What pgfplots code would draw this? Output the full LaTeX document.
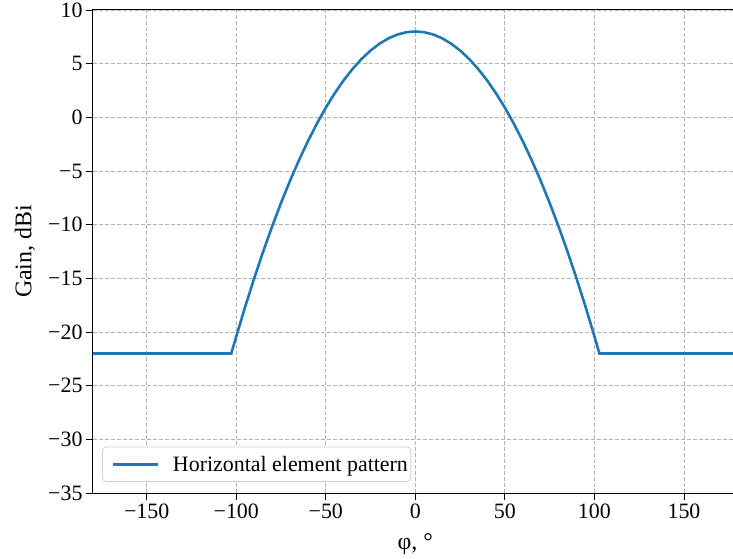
\documentclass[border=0pt]{standalone}
\usepackage{fontspec}
\setmainfont{Liberation Serif}
\usepackage{pgfplots}
\pgfplotsset{compat=1.18}
\definecolor{c0}{HTML}{1F77B4}
\begin{document}
\begin{tikzpicture}
\begin{axis}[name=ax, scale only axis, width=644.7bp, height=483bp,
 xmin=-180, xmax=180, ymin=-35, ymax=10,
 xtick={-150,-100,...,150}, xticklabels={−150,−100,−50,0,50,100,150},
 ytick={-35,-30,...,10}, yticklabels={−35,−30,−25,−20,−15,−10,−5,0,5,10},
 tick pos=left, tick align=outside, major tick length=7bp,
 tick style={black, line width=0.8bp},
 axis line style={line width=1bp},
 grid=major, grid style={dash pattern=on 4bp off 2bp, gray!60, line width=0.8bp},
 tick label style={font=\fontsize{22}{26}\selectfont},
 label style={font=\fontsize{24}{28}\selectfont},
 xlabel={φ, °}, ylabel={Gain, dBi},
 xlabel style={at={(axis description cs:0.5,-0.105)}, anchor=center},
 ylabel style={at={(axis description cs:-0.1055,0.5)}, anchor=center},
 legend style={at={(0,0)}, anchor=south west, xshift=9bp, yshift=11bp,
   draw=gray!35, rounded corners=4bp, font=\fontsize{22}{26}\selectfont,
   inner xsep=1bp, inner ysep=7bp, line width=0.8bp},
 legend cell align=left,
 legend image code/.code={\path (0bp,0bp) (65bp,0bp); \draw[#1] (8bp,0bp) -- (53bp,0bp);},
]
\addplot[c0, line width=2.6bp] coordinates {
(-180,-22) (-102.77,-22) (-100,-20.402) (-95,-17.633) (-90,-15.006) (-85,-12.521)
(-80,-10.178) (-75,-7.976) (-70,-5.917) (-65,-4) (-60,-2.225) (-55,-0.592)
(-50,0.899) (-45,2.249) (-40,3.456) (-35,4.521) (-30,5.444) (-25,6.225)
(-20,6.864) (-15,7.361) (-10,7.716) (-5,7.929) (0,8) (5,7.929) (10,7.716)
(15,7.361) (20,6.864) (25,6.225) (30,5.444) (35,4.521) (40,3.456) (45,2.249)
(50,0.899) (55,-0.592) (60,-2.225) (65,-4) (70,-5.917) (75,-7.976) (80,-10.178)
(85,-12.521) (90,-15.006) (95,-17.633) (100,-20.402) (102.77,-22) (180,-22)
};
\addlegendentry{Horizontal element pattern}
\end{axis}
\pgfresetboundingbox
\path[use as bounding box] ([shift={(-93bp,-66bp)}]ax.south west) rectangle ([shift={(640bp,493bp)}]ax.south west);
\end{tikzpicture}
\end{document}
